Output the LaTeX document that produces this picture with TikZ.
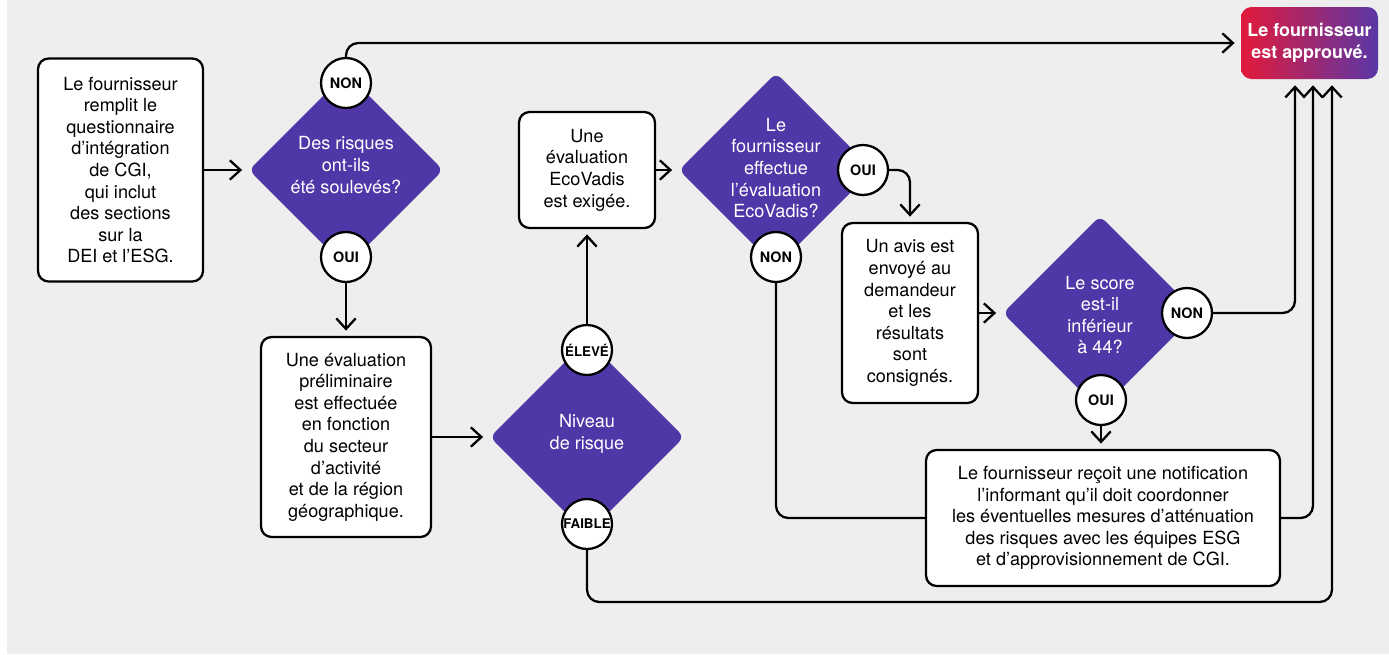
\documentclass[tikz,border=0pt]{standalone}
\usepackage{fontspec}
\setmainfont{TeX Gyre Heros}
\usepackage{tikz}
\usetikzlibrary{arrows.meta,shapes.geometric}

\definecolor{fond}{HTML}{EEEEEE}
\definecolor{mauve}{HTML}{4F37A7}
\definecolor{rouge}{HTML}{E21A3B}
\definecolor{mauveb}{HTML}{5A37A6}

\begin{document}
\begin{tikzpicture}[x=0.02cm, y=-0.02cm, line width=1.3pt,
  arr/.style={-{Straight Barb[length=6pt,width=11pt]}, shorten >=3pt, rounded corners=7pt},
  lien/.style={rounded corners=7pt},
  bloc/.style={draw, fill=white, rounded corners=6pt, align=center, inner sep=0pt,
    font=\fontsize{10.3}{12.3}\selectfont},
  appro/.style={rounded corners=6pt, left color=rouge, right color=mauveb, text=white,
    align=center, inner sep=0pt, font=\bfseries\fontsize{10.2}{12.3}\selectfont},
  risque/.style={diamond, fill=mauve, minimum size=3.9cm, inner sep=0pt, rounded corners=4pt},
  rtexte/.style={text=white, align=center, font=\fontsize{10.3}{12.3}\selectfont},
  rep/.style={circle, draw, fill=white, minimum size=1cm, inner sep=0pt,
    font=\bfseries\fontsize{8.2}{9}\selectfont},
]
% фон
\useasboundingbox (0,0) rectangle (1389,654);
\fill [white] (0,0) rectangle (1389,654);
\fill [fond] (7,0) rectangle (1389,654);

% блоки
\node [bloc, minimum width=3.3cm, minimum height=4.46cm] (start) at (120.5,170)
  {Le fournisseur\\remplit le\\questionnaire\\d’intégration\\de CGI,\\qui inclut\\des sections\\sur la\\DEI et l’ESG.};
\node [bloc, minimum width=3.4cm, minimum height=4cm] (prelim) at (346,437)
  {Une évaluation\\préliminaire\\est effectuée\\en fonction\\du secteur\\d’activité\\et de la région\\géographique.};
\node [bloc, minimum width=2.72cm, minimum height=2.32cm] (ecovadis) at (587,170)
  {Une\\évaluation\\EcoVadis\\est exigée.};
\node [bloc, minimum width=2.72cm, minimum height=3.6cm] (avis) at (910,313)
  {Un avis est\\envoyé au\\demandeur\\et les\\résultats\\sont\\consignés.};
\node [bloc, minimum width=7.08cm, minimum height=2.72cm] (notif) at (1103,518)
  {Le fournisseur reçoit une notification\\l’informant qu’il doit coordonner\\les éventuelles mesures d’atténuation\\des risques avec les équipes ESG\\et d’approvisionnement de CGI.};
\node [appro, minimum width=2.74cm, minimum height=1.44cm] (ok) at (1309.5,43)
  {Le fournisseur\\est approuvé.};

% ромбы
\node [risque] (q1) at (346,170) {};
\node [rtexte] (t1) at (346,165) {Des risques\\ont-ils\\été soulevés?};
\node [risque] (q2) at (587,437) {};
\node [rtexte] (t2) at (587,434) {Niveau\\de risque};
\node [risque] (q3) at (776,170) {};
\node [rtexte] (t3) at (776,168) {Le\\fournisseur\\effectue\\l’évaluation\\EcoVadis?};
\node [risque] (q4) at (1100,313) {};
\node [rtexte] (t4) at (1100,315) {Le score\\est-il\\inférieur\\à 44?};

% ответы
\node [rep] (q1non) at (346,83) {NON};
\node [rep] (q1oui) at (346,257) {OUI};
\node [rep, font=\bfseries\fontsize{7.6}{9}\selectfont] (eleve) at (587,350) {ÉLEVÉ};
\node [rep, font=\bfseries\fontsize{7.6}{9}\selectfont] (faible) at (587,524) {FAIBLE};
\node [rep] (q3oui) at (863,170) {OUI};
\node [rep] (q3non) at (776,257) {NON};
\node [rep] (q4non) at (1187,313) {NON};
\node [rep] (q4oui) at (1101,400) {OUI};

% входы в итоговый блок
\coordinate (in1) at (1295,80);
\coordinate (in2) at (1313,80);
\coordinate (in3) at (1332,80);
\coordinate (bas) at (1332,602);

% стрелки
\draw [arr] (start) -- (q1);
\draw [arr] (q1non.north) |- (ok.west);
\draw [arr] (q1oui) -- (prelim);
\draw [arr] (prelim) -- (q2);
\draw [arr] (eleve) -- (ecovadis);
\draw [arr] (ecovadis) -- (q3);
\draw [arr] (q3oui.east) -| (avis.north);
\draw [lien] (q3non.south) |- (notif.west);
\draw [arr] (avis) -- (q4);
\draw [arr] (q4non.east) -| (in1);
\draw [arr] (q4oui) -- (q4oui |- notif.north);
\draw [arr] (notif.east) -| (in2);
\draw [arr] (faible.south) |- (bas) -- (in3);
\end{tikzpicture}
\end{document}
